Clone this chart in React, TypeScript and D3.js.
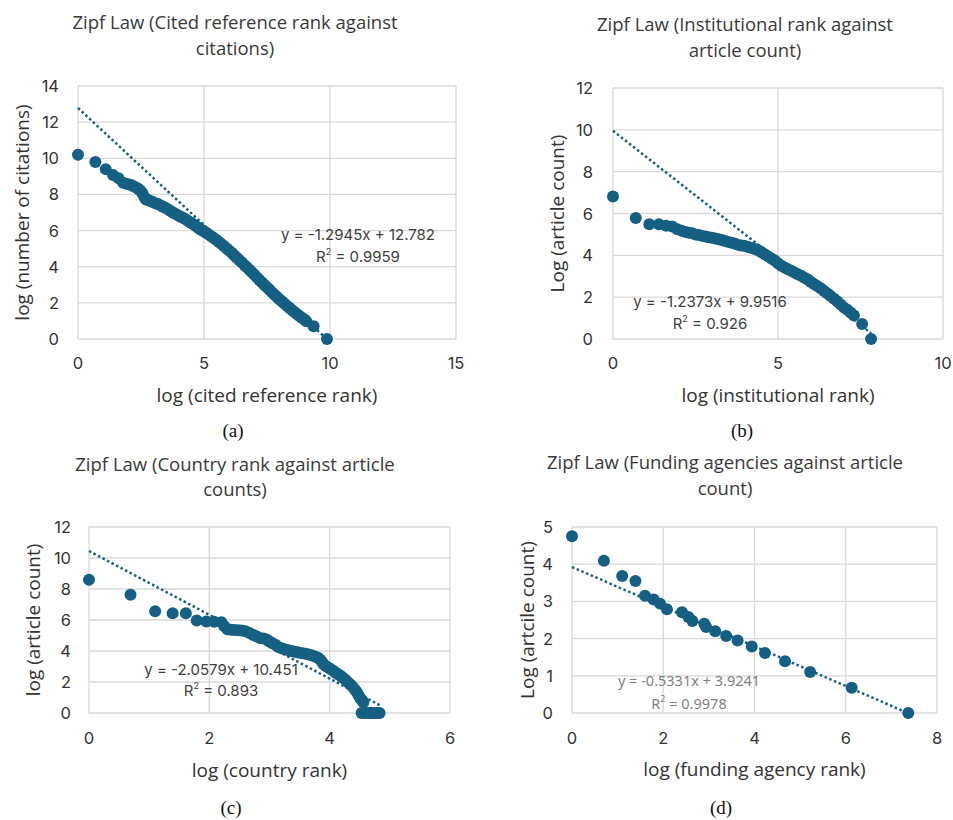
import React from "react";
import * as d3 from "d3";

// ---------- DATA ----------
// (a) cited reference rank vs citations (log-log)
const citedX = [0, 0.69, 1.10, 1.39, 1.61, 1.79, 1.95, 2.08, 2.20, 2.30, 2.40, 2.48, 2.56, 2.64, 2.70, 2.8, 2.9, 3.0, 3.1, 3.2, 3.3, 3.4, 3.5, 3.6, 3.7, 3.8, 3.9, 4.0, 4.1, 4.2, 4.3, 4.4, 4.5, 4.6, 4.7, 4.8, 4.9, 5.0, 5.1, 5.2, 5.3, 5.4, 5.5, 5.6, 5.7, 5.8, 5.9, 6.0, 6.1, 6.2, 6.3, 6.4, 6.5, 6.6, 6.7, 6.8, 6.9, 7.0, 7.1, 7.2, 7.3, 7.4, 7.5, 7.6, 7.7, 7.8, 7.9, 8.0, 8.1, 8.2, 8.3, 8.4, 8.5, 8.6, 8.7, 8.8, 8.9, 9.0, 9.06, 9.35, 9.88];
const citedY = [10.2, 9.8, 9.4, 9.08, 8.9, 8.65, 8.58, 8.53, 8.45, 8.38, 8.3, 8.2, 8.05, 7.85, 7.72, 7.68, 7.62, 7.55, 7.5, 7.45, 7.38, 7.3, 7.24, 7.15, 7.05, 6.97, 6.9, 6.82, 6.75, 6.68, 6.6, 6.5, 6.42, 6.32, 6.22, 6.12, 6.03, 5.95, 5.86, 5.77, 5.67, 5.58, 5.48, 5.37, 5.25, 5.13, 5.01, 4.89, 4.77, 4.64, 4.5, 4.37, 4.24, 4.1, 3.97, 3.83, 3.69, 3.55, 3.41, 3.27, 3.13, 2.99, 2.86, 2.72, 2.58, 2.45, 2.32, 2.19, 2.07, 1.95, 1.83, 1.71, 1.59, 1.48, 1.37, 1.26, 1.16, 1.06, 0.98, 0.70, 0];

// (b) institutional rank vs article count
const instX = [0, 0.69, 1.10, 1.39, 1.61, 1.79, 1.95, 2.08, 2.2, 2.3, 2.4, 2.5, 2.6, 2.7, 2.8, 2.9, 3.0, 3.1, 3.2, 3.3, 3.4, 3.5, 3.6, 3.7, 3.8, 3.9, 4.0, 4.1, 4.2, 4.3, 4.4, 4.5, 4.6, 4.7, 4.8, 4.9, 5.0, 5.1, 5.2, 5.3, 5.4, 5.5, 5.6, 5.7, 5.8, 5.9, 6.0, 6.1, 6.2, 6.3, 6.4, 6.5, 6.6, 6.7, 6.8, 6.9, 7.0, 7.1, 7.2, 7.3, 7.55, 7.82];
const instY = [6.81, 5.78, 5.49, 5.49, 5.41, 5.38, 5.25, 5.17, 5.12, 5.08, 5.05, 5.0, 4.97, 4.93, 4.9, 4.87, 4.84, 4.81, 4.77, 4.73, 4.69, 4.64, 4.6, 4.55, 4.5, 4.47, 4.45, 4.4, 4.35, 4.3, 4.24, 4.15, 4.05, 3.95, 3.85, 3.75, 3.62, 3.5, 3.42, 3.34, 3.26, 3.18, 3.1, 3.02, 2.93, 2.84, 2.72, 2.62, 2.52, 2.41, 2.29, 2.17, 2.05, 1.92, 1.79, 1.65, 1.5, 1.4, 1.27, 1.12, 0.72, 0];

// (c) country rank vs article counts
const countryX = [0, 0.69, 1.10, 1.39, 1.61, 1.79, 1.95, 2.08, 2.20, 2.25, 2.30, 2.36, 2.42, 2.48, 2.54, 2.60, 2.66, 2.72, 2.78, 2.84, 2.90, 2.95, 3.0, 3.05, 3.10, 3.15, 3.20, 3.25, 3.30, 3.35, 3.40, 3.45, 3.50, 3.55, 3.60, 3.65, 3.70, 3.75, 3.80, 3.84, 3.87, 3.90, 3.94, 3.98, 4.02, 4.06, 4.10, 4.14, 4.18, 4.22, 4.26, 4.30, 4.34, 4.38, 4.42, 4.45, 4.48, 4.51, 4.54, 4.56, 4.53, 4.57, 4.61, 4.65, 4.69, 4.72, 4.76, 4.80, 4.83];
const countryY = [8.6, 7.63, 6.56, 6.43, 6.43, 5.97, 5.91, 5.88, 5.85, 5.6, 5.4, 5.37, 5.35, 5.34, 5.33, 5.28, 5.18, 5.05, 4.95, 4.84, 4.8, 4.75, 4.62, 4.5, 4.4, 4.25, 4.18, 4.12, 4.07, 4.02, 3.97, 3.93, 3.89, 3.85, 3.82, 3.77, 3.72, 3.65, 3.58, 3.45, 3.3, 3.15, 3.02, 2.92, 2.83, 2.72, 2.6, 2.5, 2.4, 2.28, 2.15, 2.0, 1.85, 1.7, 1.5, 1.35, 1.15, 0.95, 0.8, 0.69, 0, 0, 0, 0, 0, 0, 0, 0, 0];

// (d) funding agency rank vs article count
const fundX = [0, 0.70, 1.10, 1.39, 1.60, 1.79, 1.93, 2.08, 2.41, 2.55, 2.64, 2.90, 2.94, 3.14, 3.38, 3.63, 3.94, 4.23, 4.67, 5.22, 6.13, 7.37];
const fundY = [4.75, 4.09, 3.68, 3.55, 3.15, 3.05, 2.94, 2.79, 2.71, 2.58, 2.47, 2.40, 2.31, 2.20, 2.07, 1.95, 1.79, 1.61, 1.39, 1.10, 0.68, 0];

// trend lines [slope, intercept, r2]
const citedTrend = [-1.2945, 12.782, 0.9959];
const instTrend = [-1.2373, 9.9516, 0.926];
const countryTrend = [-2.0579, 10.451, 0.893];
const fundTrend = [-0.5331, 3.9241, 0.9978];

// axis ticks
const citedXTicks = [0, 5, 10, 15];
const citedYTicks = [0, 2, 4, 6, 8, 10, 12, 14];
const instXTicks = [0, 5, 10];
const instYTicks = [0, 2, 4, 6, 8, 10, 12];
const countryXTicks = [0, 2, 4, 6];
const countryYTicks = [0, 2, 4, 6, 8, 10, 12];
const fundXTicks = [0, 2, 4, 6, 8];
const fundYTicks = [0, 1, 2, 3, 4, 5];

// ---------- STYLE ----------
const DOT = "#156082";
const GRID = "#d9d9d9";
const TITLE_FONT = "'Open Sans', 'Noto Sans', sans-serif";
const TICK_FONT = "Inter, 'Liberation Sans', sans-serif";

type PanelCfg = {
  xs: number[]; ys: number[]; trend: number[];
  xTicks: number[]; yTicks: number[];
  title: string[]; xTitle: string; yTitle: string; caption: string;
  eq: string; r2: string;
  L: number; R: number; T: number; B: number;
  titleX: number; titleY: number[];
  yTickX: number; xTickY: number; xTitleY: number; yTitleX: number;
  annX: number; annY: number[]; capX: number; capY: number;
  grayAnn?: boolean;
};

function Panel({ c }: { c: PanelCfg }) {
  const x = d3.scaleLinear().domain([c.xTicks[0], c.xTicks[c.xTicks.length - 1]]).range([c.L, c.R]);
  const y = d3.scaleLinear().domain([c.yTicks[0], c.yTicks[c.yTicks.length - 1]]).range([c.B, c.T]);
  const xMax = d3.max(c.xs) as number;
  const trendPts: [number, number][] = [[0, c.trend[1]], [xMax, c.trend[0] * xMax + c.trend[1]]];
  const line = d3.line<[number, number]>().x((d) => x(d[0])).y((d) => y(d[1]));
  const pts = c.xs.map((v, i) => [v, c.ys[i]] as [number, number]);
  const annColor = c.grayAnn ? "#7f7f7f" : "#404040";
  const annFont = c.grayAnn ? "'Noto Sans', sans-serif" : TICK_FONT;
  const annSize = c.grayAnn ? 14.5 : 15;
  return (
    <g>
      {c.title.map((t, i) => (
        <text key={i} x={c.titleX} y={c.titleY[i]} textAnchor="middle" dominantBaseline="central"
          fontFamily={TITLE_FONT} fontSize={18.5} fill="#3a3a3a">{t}</text>
      ))}
      {c.yTicks.map((t) => (
        <line key={"gy" + t} x1={c.L} x2={c.R} y1={y(t)} y2={y(t)} stroke={GRID} strokeWidth={1.3} />
      ))}
      {c.xTicks.map((t) => (
        <line key={"gx" + t} x1={x(t)} x2={x(t)} y1={c.T} y2={c.B} stroke={GRID} strokeWidth={1.3} />
      ))}
      {c.yTicks.map((t) => (
        <text key={"ty" + t} x={c.yTickX} y={y(t)} textAnchor="end" dominantBaseline="central"
          fontFamily={TICK_FONT} fontSize={16.5} fill="#333">{t}</text>
      ))}
      {c.xTicks.map((t) => (
        <text key={"tx" + t} x={x(t)} y={c.xTickY} textAnchor="middle" dominantBaseline="central"
          fontFamily={TICK_FONT} fontSize={16.5} fill="#333">{t}</text>
      ))}
      <text x={(c.L + c.R) / 2} y={c.xTitleY} textAnchor="middle" dominantBaseline="central"
        fontFamily={TITLE_FONT} fontSize={19} fill="#333">{c.xTitle}</text>
      <text transform={`translate(${c.yTitleX},${(c.T + c.B) / 2}) rotate(-90)`} textAnchor="middle"
        dominantBaseline="central" fontFamily={TITLE_FONT} fontSize={19} fill="#333">{c.yTitle}</text>
      <path d={line(trendPts) || ""} fill="none" stroke={DOT} strokeWidth={2.5} strokeDasharray="2.5 2.6" />
      {pts.map((p, i) => (
        <circle key={i} cx={x(p[0])} cy={y(p[1])} r={6} fill={DOT} />
      ))}
      <text x={c.annX} y={c.annY[0]} textAnchor="middle" dominantBaseline="central"
        fontFamily={annFont} fontSize={annSize} fill={annColor}>{c.eq}</text>
      <text x={c.annX} y={c.annY[1] + 1} textAnchor="middle" dominantBaseline="central"
        fontFamily={annFont} fontSize={annSize} fill={annColor}>
        R<tspan dy={-5} fontSize={9}>2</tspan><tspan dy={5}>{" = " + c.r2}</tspan>
      </text>
      <text x={c.capX} y={c.capY} textAnchor="middle" dominantBaseline="central"
        fontFamily="'Liberation Serif', 'Times New Roman', serif" fontSize={19} fill="#111">{c.caption}</text>
    </g>
  );
}

const fmtEq = (t: number[]) => `y = ${t[0]}x + ${t[1]}`;

const panels: PanelCfg[] = [
  {
    xs: citedX, ys: citedY, trend: citedTrend, xTicks: citedXTicks, yTicks: citedYTicks,
    title: ["Zipf Law (Cited reference rank against", "citations)"],
    xTitle: "log (cited reference rank)", yTitle: "log (number of citations)", caption: "(a)",
    eq: fmtEq(citedTrend), r2: String(citedTrend[2]),
    L: 78, R: 456, T: 86, B: 339, titleX: 235, titleY: [21, 47],
    yTickX: 59, xTickY: 363, xTitleY: 395, yTitleX: 22, annX: 358, annY: [234, 255], capX: 233, capY: 430,
  },
  {
    xs: instX, ys: instY, trend: instTrend, xTicks: instXTicks, yTicks: instYTicks,
    title: ["Zipf Law (Institutional rank against", "article count)"],
    xTitle: "log (institutional rank)", yTitle: "Log (article count)", caption: "(b)",
    eq: fmtEq(instTrend), r2: String(instTrend[2]),
    L: 613, R: 943, T: 88, B: 339, titleX: 745, titleY: [23, 49],
    yTickX: 593, xTickY: 363, xTitleY: 395, yTitleX: 557, annX: 710, annY: [301, 322], capX: 742, capY: 430,
  },
  {
    xs: countryX, ys: countryY, trend: countryTrend, xTicks: countryXTicks, yTicks: countryYTicks,
    title: ["Zipf Law (Country rank against article", "counts)"],
    xTitle: "log (country rank)", yTitle: "log (article count)", caption: "(c)",
    eq: fmtEq(countryTrend), r2: String(countryTrend[2]),
    L: 89, R: 450, T: 527, B: 713, titleX: 235, titleY: [463, 488],
    yTickX: 71, xTickY: 738, xTitleY: 770, yTitleX: 33, annX: 221, annY: [669, 689], capX: 231, capY: 807,
  },
  {
    xs: fundX, ys: fundY, trend: fundTrend, xTicks: fundXTicks, yTicks: fundYTicks,
    title: ["Zipf Law (Funding agencies against article", "count)"],
    xTitle: "log (funding agency rank)", yTitle: "Log (artcile count)", caption: "(d)",
    eq: fmtEq(fundTrend), r2: String(fundTrend[2]),
    L: 572, R: 937, T: 527, B: 713, titleX: 725, titleY: [461, 487],
    yTickX: 553, xTickY: 738, xTitleY: 769, yTitleX: 527, annX: 689, annY: [680, 702], capX: 721, capY: 807,
    grayAnn: true,
  },
];

export default function App() {
  return (
    <svg width={953} height={820} style={{ position: "absolute", left: 0, top: 0, background: "#fff" }}>
      <rect width={953} height={820} fill="#fff" />
      {panels.map((p, i) => <Panel key={i} c={p} />)}
    </svg>
  );
}
